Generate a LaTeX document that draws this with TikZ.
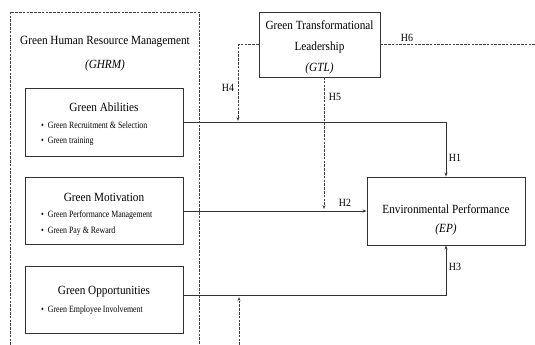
\documentclass[tikz,border=0pt]{standalone}
\usepackage{fontspec}
\setmainfont{Liberation Serif}[FakeStretch=0.9]
\newfontfamily\itmfont{Liberation Serif}[FakeStretch=0.82]
\usetikzlibrary{arrows.meta}
\begin{document}
\begin{tikzpicture}[x=1pt,y=-1pt,
  box/.style={draw=black!80,line width=0.9pt,inner sep=0pt},
  ttl/.style={font=\fontsize{12.5}{14}\selectfont,inner sep=0pt,anchor=center},
  itm/.style={font=\itmfont\fontsize{9.6}{11}\selectfont,inner sep=0pt,anchor=west},
  hlab/.style={font=\fontsize{11}{12}\selectfont,inner sep=0pt},
  solidln/.style={draw=black!80,line width=0.8pt},
  dashln/.style={draw=black!75,line width=0.7pt,dash pattern=on 2.6pt off 1.2pt},
  tip/.style={-{Stealth[length=4pt,width=3pt]}}]
\useasboundingbox (0,0) rectangle (535,345);
% GHRM dashed frame
\coordinate (gl) at (10,345);
\coordinate (gr) at (199,345);
\draw[dashln] (gl) |- (199,12) -- (gr);
\node[ttl] (ghrm) at (105,42) {Green Human Resource Management};
\node[ttl] (ghrmab) at (105,65) {\itshape (GHRM)};
% Green Abilities
\node[box,minimum width=158pt,minimum height=68pt] (abil) at (104,122) {};
\node[ttl] (abilt) at (104,107) {Green Abilities};
\node[itm] (abil1) at (41,125) {\textbullet\ \ Green Recruitment \& Selection};
\node[itm] (abil2) at (41,141) {\textbullet\ \ Green training};
% Green Motivation
\node[box,minimum width=158pt,minimum height=67pt] (mot) at (104,211) {};
\node[ttl] (mott) at (104,197) {Green Motivation};
\node[itm] (mot1) at (41,215) {\textbullet\ \ Green Performance Management};
\node[itm] (mot2) at (41,231) {\textbullet\ \ Green Pay \& Reward};
% Green Opportunities
\node[box,minimum width=158pt,minimum height=67pt] (opp) at (104,299.5) {};
\node[ttl] (oppt) at (104,292) {Green Opportunities};
\node[itm] (opp1) at (41,310) {\textbullet\ \ Green Employee Involvement};
% GTL
\node[box,minimum width=121pt,minimum height=65pt] (gtl) at (319.5,44.5) {};
\node[ttl] (gtl1) at (319.5,25) {Green Transformational};
\node[ttl] (gtl2) at (319.5,47) {Leadership};
\node[ttl] (gtl3) at (319.5,68) {\itshape (GTL)};
% EP
\node[box,minimum width=158pt,minimum height=68pt] (ep) at (446,211) {};
\node[ttl] (ep1) at (446,209) {Environmental Performance};
\node[ttl] (ep2) at (446,229) {\itshape (EP)};
% solid connectors
\draw[solidln,tip] (abil.east) -| (ep.north);
\draw[solidln,tip] (mot.east) -- (mot.east -| ep.west);
\coordinate (oppo) at (183,295);
\draw[solidln,tip] (oppo) -| (ep.south);
% dashed connectors
\coordinate (h4e) at (238,121);
\draw[dashln,tip] (gtl.west) -| (h4e);
\coordinate (h5s) at (324,77);
\coordinate (h5e) at (324,209);
\draw[dashln,tip] (h5s) -- (h5e);
\coordinate (h6e) at (535,44.5);
\draw[dashln] (gtl.east) -- (h6e);
\coordinate (bs) at (239,345);
\coordinate (be) at (239,297);
\draw[dashln,tip] (bs) -- (be);
% labels
\node[hlab] (h1) at (455,158) {H1};
\node[hlab] (h2) at (345,203) {H2};
\node[hlab] (h3) at (455,267) {H3};
\node[hlab] (h4) at (228,88) {H4};
\node[hlab] (h5) at (335,97) {H5};
\node[hlab] (h6) at (407,38) {H6};
\end{tikzpicture}
\end{document}
